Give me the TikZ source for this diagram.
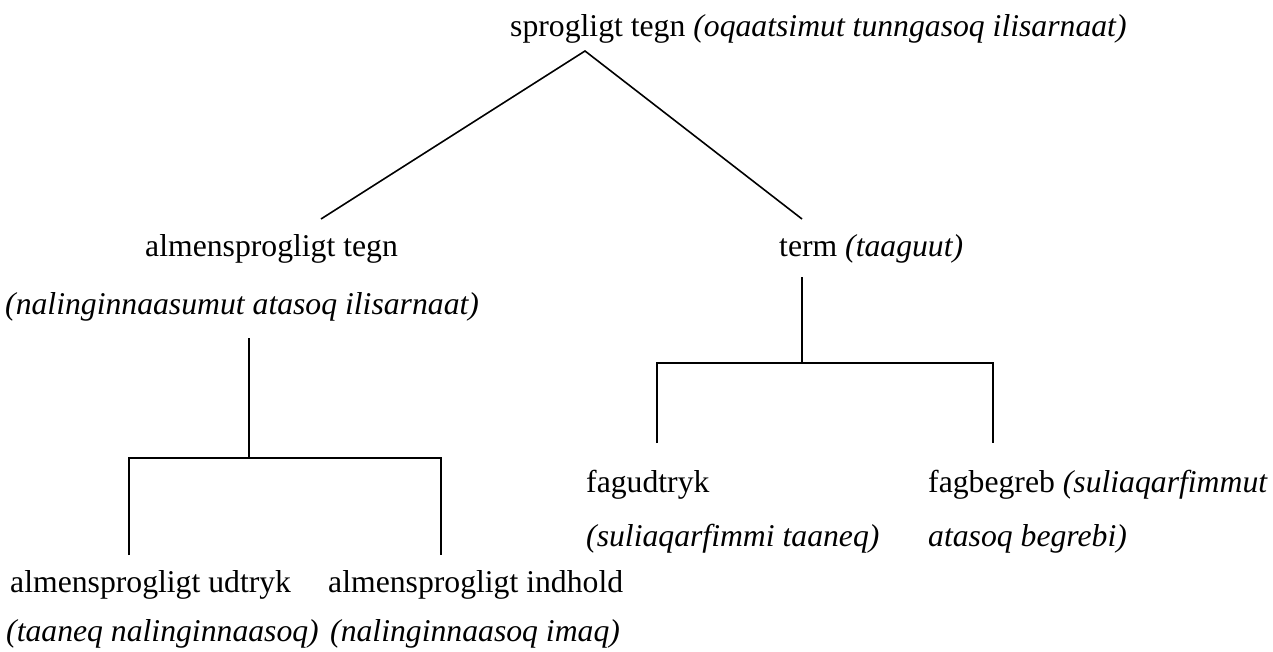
\documentclass[tikz,border=0pt]{standalone}
\usepackage{fontspec}
\setmainfont{Liberation Serif}
\begin{document}
\begin{tikzpicture}[x=1pt,y=-1pt,
  lbl/.style={anchor=base west,inner sep=0pt,font=\fontsize{31.7}{38}\selectfont},
  conn/.style={line width=1.6pt,line cap=butt,line join=miter}]
\useasboundingbox (0,0) rectangle (1273,652);
% texts
\node[lbl] (top) at (510,37) {sprogligt tegn \textit{(oqaatsimut tunngasoq ilisarnaat)}};
\node[lbl] (alm) at (145,256) {almensprogligt tegn};
\node[lbl] (almb) at (5,314) {\textit{(nalinginnaasumut atasoq ilisarnaat)}};
\node[lbl] (term) at (779,256) {term \textit{(taaguut)}};
\node[lbl] (fagu) at (586,492) {fagudtryk};
\node[lbl] (fagub) at (586,546) {\textit{(suliaqarfimmi taaneq)}};
\node[lbl] (fagb) at (928,492) {fagbegreb \textit{(suliaqarfimmut}};
\node[lbl] (fagbb) at (928,546) {\textit{atasoq begrebi)}};
\node[lbl] (udt) at (10,592) {almensprogligt udtryk};
\node[lbl] (udtb) at (6,641) {\textit{(taaneq nalinginnaasoq)}};
\node[lbl] (ind) at (328,592) {almensprogligt indhold};
\node[lbl] (indb) at (330,641) {\textit{(nalinginnaasoq imaq)}};
% connector points
\coordinate (apex) at (585,51);
\coordinate (almtop) at (321,219);
\coordinate (termtop) at (802,219);
\coordinate (almdown) at (249,338);
\coordinate (almjoin) at (249,458);
\coordinate (udttop) at (129,555);
\coordinate (indtop) at (441,555);
\coordinate (termdown) at (802,277);
\coordinate (termjoin) at (802,363);
\coordinate (fagutop) at (657,443);
\coordinate (fagbtop) at (993,443);
% connectors
\draw[conn] (almtop) -- (apex) -- (termtop);
\draw[conn] (almdown) -- (almjoin);
\draw[conn] (udttop) -- (udttop |- almjoin) -- (indtop |- almjoin) -- (indtop);
\draw[conn] (termdown) -- (termjoin);
\draw[conn] (fagutop) -- (fagutop |- termjoin) -- (fagbtop |- termjoin) -- (fagbtop);
\end{tikzpicture}
\end{document}
